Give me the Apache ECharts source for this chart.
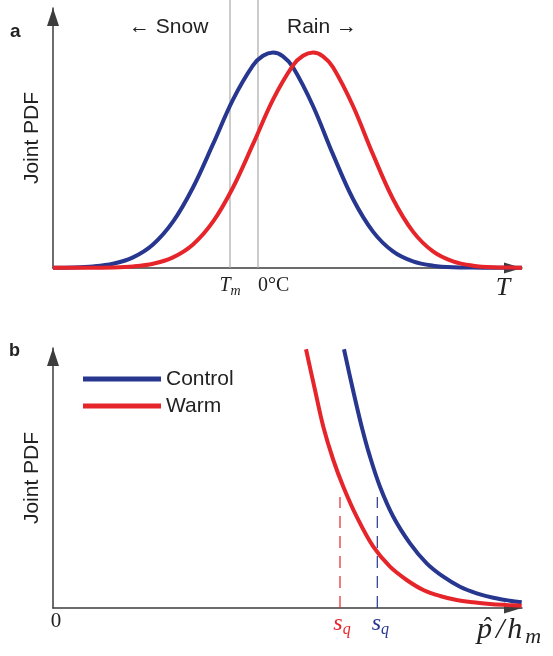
<!DOCTYPE html>
<html><head><meta charset="utf-8">
<script src="https://cdn.jsdelivr.net/npm/echarts@6/dist/echarts.min.js"></script>
<style>html,body{margin:0;padding:0;background:#fff}#c{width:553px;height:656px}</style>
</head><body><div id="c"></div>
<script>
// ---------- Panel a: joint PDF vs temperature (schematic units) ----------
const controlA = [[0,0.3],[20,0.5],[40,1.5],[60,4.2],[80,10.6],[100,23.5],[120,46.3],[140,80.5],[160,123.8],[180,168.4],[200,202.6],[210,212.2],[220,215.5],[230,211.7],[240,200.7],[260,162],[280,113.6],[300,69],[320,36.4],[340,16.6],[360,6.6],[380,2.3],[400,0.7],[420,0.4],[440,0.3],[469,0.3]];
const warmA = [[0,0.2],[40,0.3],[60,0.5],[80,1.5],[100,4.2],[120,10.6],[140,23.5],[160,46.3],[180,80.5],[200,123.8],[220,168.4],[240,202.6],[250,212.2],[260,215.5],[270,211.7],[280,200.7],[300,162],[320,113.6],[340,69],[360,36.4],[380,16.6],[400,6.6],[420,2.3],[440,0.7],[460,0.4],[469,0.3]];
const refLinesA = [177, 205];              // T_m and 0°C
const refLineTopA = 268;
const tickValsA = [177];
const tickLabelsA = ['{i|T}{sub|m}'];
const tickValsA2 = [205];
const tickLabelsA2 = ['{r|0°C}'];

// ---------- Panel b: joint PDF vs p̂/h_m ----------
const controlB = [[291,258.7],[300,218],[308.7,181.3],[317,151.3],[327,121.3],[340.3,91.3],[357,64.7],[373.7,44.7],[390.3,31.3],[407,21.3],[423.7,14.7],[440.3,10.3],[457,7.3],[468.7,5.7]];
const warmB = [[253,258.7],[262,218],[270.3,181.3],[280.3,148],[290.3,121.3],[303.7,91.3],[320.3,61.3],[337,41.3],[353.7,28],[370.3,18],[387,12],[403.7,8],[420.3,5.7],[437,4],[453.7,3],[468.7,2.3]];
const sqWarm = 287, sqControl = 324.3, sqTop = 111;
const tickValsB = [0, 287, 324.3];
const tickLabelsB = ['{z|0}', '{rs|s}{rq|q}', '{bs|s}{bq|q}'];
const seriesNames = ['Control', 'Warm'];

const BLUE = '#27368f', RED = '#e6252b', AX = '#3d3d3d', TXT = '#222';
const SANS = "'Liberation Sans', Arial, Helvetica, sans-serif";
const SERIF = "'Liberation Serif', 'Times New Roman', 'DejaVu Serif', serif";

const chart = echarts.init(document.getElementById('c'));

function xAxisFor(grid, vals, labels, rich, margin, opts) {
  opts = opts || {};
  return {
    gridIndex: grid, type: 'value', min: 0, max: 469, position: 'bottom',
    axisLine: opts.noLine ? {show: false} : {show: true, onZero: false, symbol: ['none', 'triangle'], symbolSize: [11, 18], symbolOffset: [0, -9], lineStyle: {color: AX, width: 1.5}},
    axisTick: {show: false}, splitLine: {show: false},
    axisLabel: {show: true, customValues: vals, margin: margin, rich: rich, hideOverlap: false, align: opts.align || 'center',
      formatter: function (v) { const i = vals.indexOf(v); return i >= 0 ? labels[i] : ''; }}
  };
}
function yAxisFor(grid) {
  return {
    gridIndex: grid, type: 'value', min: 0, max: 260,
    axisLine: {show: true, onZero: false, symbol: ['none', 'triangle'], symbolSize: [12, 18], symbolOffset: [0, -9], lineStyle: {color: AX, width: 1.5}},
    axisTick: {show: false}, splitLine: {show: false}, axisLabel: {show: false},
    name: 'Joint PDF', nameLocation: 'middle', nameGap: 10,
    nameTextStyle: {fontFamily: SANS, fontSize: 21, color: TXT}
  };
}
const mainSerif = (size, color, padL) => ({fontFamily: SERIF, fontStyle: 'italic', fontSize: size, color: color, lineHeight: size + 2, verticalAlign: 'bottom', padding: [0, 0, 2, padL || 0]});
const subSerif = (size, color) => ({fontFamily: SERIF, fontStyle: 'italic', fontSize: size, color: color, lineHeight: size + 1, verticalAlign: 'bottom'});

const richA = {
  i: mainSerif(20, TXT), sub: subSerif(14, TXT),
  r: {fontFamily: SERIF, fontSize: 20, color: TXT, lineHeight: 22, verticalAlign: 'bottom', padding: [0, 0, 2, 0]}
};
const richB = {
  z: {fontFamily: SERIF, fontSize: 21, color: TXT, lineHeight: 22, verticalAlign: 'bottom', padding: [0, 0, 2, 6]},
  rs: mainSerif(24, RED, 4), rq: subSerif(16, RED),
  bs: mainSerif(24, BLUE, 6), bq: subSerif(16, BLUE)
};

const lineSeries = (name, data, color, xi, yi) => ({
  name: name, type: 'line', xAxisIndex: xi, yAxisIndex: yi, data: data,
  smooth: 0.35, showSymbol: false, symbol: 'none', lineStyle: {color: color, width: 4}, itemStyle: {color: color},
  z: 5, silent: true
});
const helperLine = (data, color, type, xi, yi, width) => ({
  type: 'line', xAxisIndex: xi, yAxisIndex: yi, data: data, clip: false,
  showSymbol: false, symbol: 'none', lineStyle: {color: color, width: width, type: type}, z: 1, silent: true
});

function txt(x, y, text, font, extra) {
  return {type: 'text', x: x, y: y, silent: true, z: 10,
    style: Object.assign({text: text, font: font, fill: TXT, align: 'left', verticalAlign: 'middle', textAlign: 'left', textVerticalAlign: 'middle'}, extra || {})};
}

chart.setOption({
  animation: false,
  backgroundColor: '#fff',
  grid: [
    {left: 53, top: 8, width: 469, height: 260, containLabel: false},
    {left: 53, top: 348, width: 469, height: 260, containLabel: false}
  ],
  xAxis: [
    xAxisFor(0, tickValsA, tickLabelsA, richA, 8),
    xAxisFor(1, tickValsB, tickLabelsB, richB, 4),
    xAxisFor(0, tickValsA2, tickLabelsA2, richA, 8, {noLine: true, align: 'left'})
  ],
  yAxis: [yAxisFor(0), yAxisFor(1)],
  legend: {
    data: seriesNames, orient: 'vertical', left: 83, top: 368.5, padding: 0, icon: 'rect',
    itemWidth: 78, itemHeight: 5, itemGap: 6, selectedMode: false,
    textStyle: {fontFamily: SANS, fontSize: 21, lineHeight: 21, color: TXT}
  },
  series: [
    helperLine([[refLinesA[0], 0], [refLinesA[0], refLineTopA]], '#a9a9a9', 'solid', 0, 0, 1.2),
    helperLine([[refLinesA[1], 0], [refLinesA[1], refLineTopA]], '#a9a9a9', 'solid', 0, 0, 1.2),
    lineSeries(seriesNames[0], controlA, BLUE, 0, 0),
    lineSeries(seriesNames[1], warmA, RED, 0, 0),
    helperLine([[sqWarm, 0], [sqWarm, sqTop]], RED, [12, 8], 1, 1, 1.2),
    helperLine([[sqControl, 0], [sqControl, sqTop]], BLUE, [12, 8], 1, 1, 1.2),
    lineSeries(seriesNames[0], controlB, BLUE, 1, 1),
    lineSeries(seriesNames[1], warmB, RED, 1, 1)
  ],
  graphic: [
    txt(10, 32, 'a', 'bold 19px ' + SANS),
    txt(9, 351, 'b', 'bold 18px ' + SANS),
    txt(129, 27.5, '\u2190 Snow', '21px ' + SANS),
    txt(287, 27.5, 'Rain \u2192', '21px ' + SANS),
    txt(503, 288.6, 'T', 'italic 26px ' + SERIF, {align: 'center', textAlign: 'center'}),
    txt(488, 628, '\u02C6', '25px ' + SERIF, {align: 'center', textAlign: 'center'}),
    {type: 'text', x: 477, y: 618, silent: true, z: 10,
      style: {text: '{i|p}{s|/}{i|h}{m|m}', fill: TXT, align: 'left', verticalAlign: 'top', textAlign: 'left', textVerticalAlign: 'top',
        rich: {
          i: {fontFamily: SERIF, fontStyle: 'italic', fontSize: 30, lineHeight: 30, verticalAlign: 'bottom', padding: [0, 3, 3, 0]},
          s: {fontFamily: SERIF, fontStyle: 'italic', fontSize: 30, lineHeight: 30, verticalAlign: 'bottom', padding: [0, 3, 3, 1]},
          m: {fontFamily: SERIF, fontStyle: 'italic', fontSize: 22, lineHeight: 22, verticalAlign: 'bottom'}
        }}}
  ]
});
</script></body></html>
